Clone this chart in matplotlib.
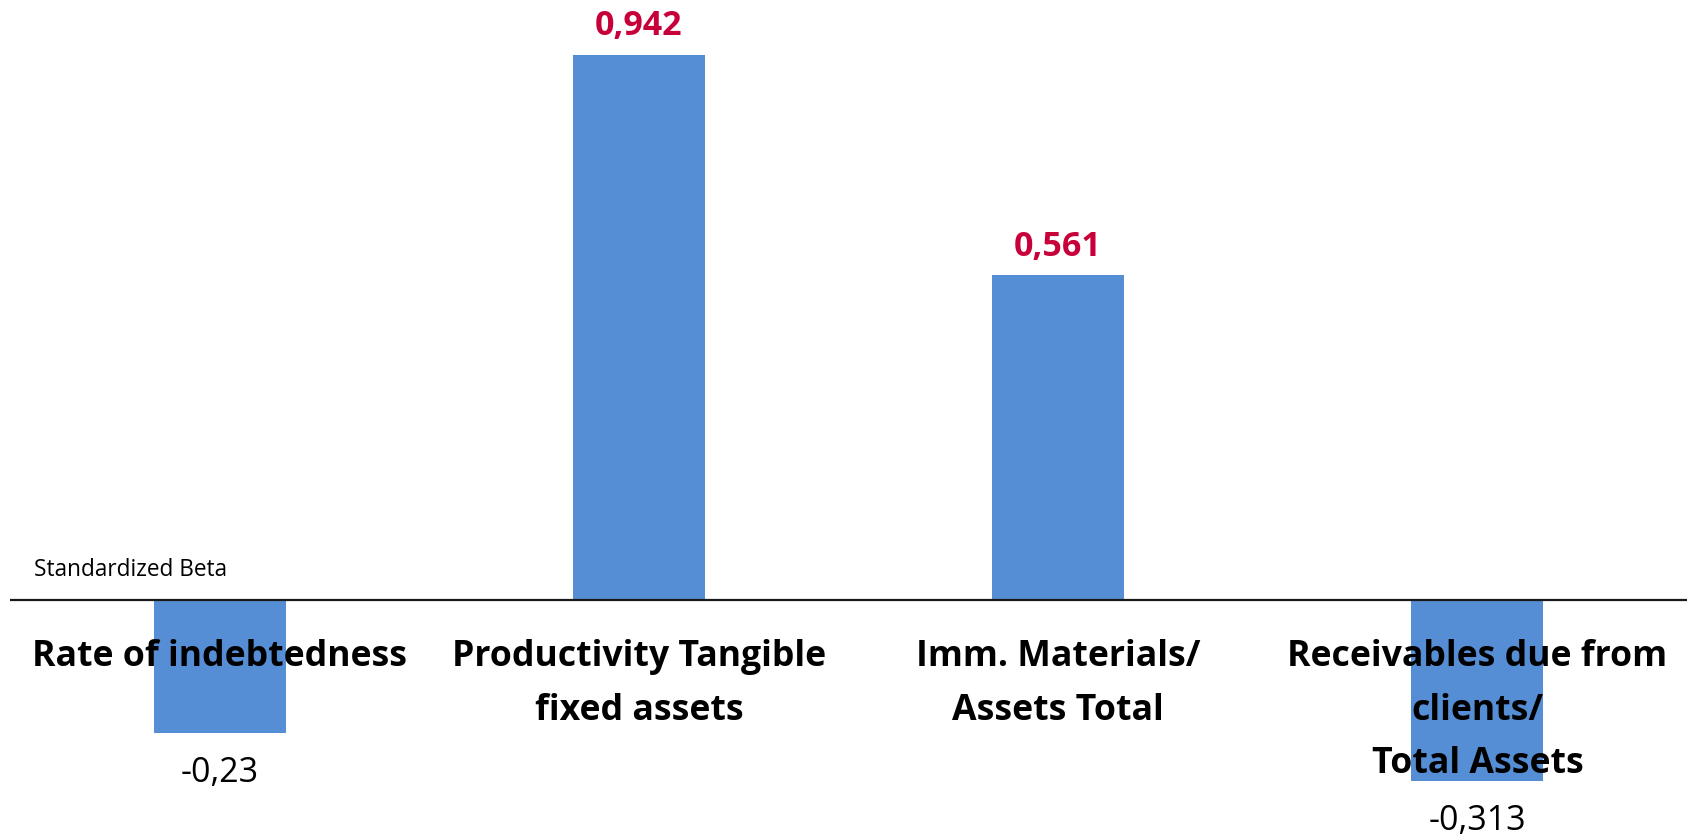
import matplotlib
matplotlib.use("Agg")
import matplotlib.pyplot as plt

categories = ["Rate of indebtedness",
              "Productivity Tangible\nfixed assets",
              "Imm. Materials/\nAssets Total",
              "Receivables due from\nclients/\nTotal Assets"]
values = [-0.23, 0.942, 0.561, -0.313]
value_labels = ["-0,23", "0,942", "0,561", "-0,313"]
axis_title = "Standardized Beta"

W, H = 1692, 837
fig = plt.figure(figsize=(W / 100, H / 100), dpi=100)
ax = fig.add_axes([10 / W, 0, 1677 / W, 1])
ax.set_xlim(-0.5, 3.5)
ax.set_ylim(-(837 - 601) / 579, 601 / 579)
ax.axis("off")

bar_color = "#558ED5"
x = list(range(len(categories)))
ax.bar(x, values, width=0.315, color=bar_color, zorder=1)
ax.axhline(0, color="#1a1a1a", linewidth=1.6, zorder=2)

font = "Open Sans"
for i, (v, lab) in enumerate(zip(values, value_labels)):
    if v >= 0:
        ax.annotate(lab, xy=(i, v), xytext=(0, 9), textcoords="offset points",
                    ha="center", va="bottom", fontsize=24.5, fontweight="bold",
                    color="#C8003A", family=font)
    else:
        ax.annotate(lab, xy=(i, v), xytext=(0, -16), textcoords="offset points",
                    ha="center", va="top", fontsize=24.5, color="black", family=font)

for i, cat in enumerate(categories):
    ax.text(i, -0.066, cat, ha="center", va="top", fontsize=25.7, fontweight="bold",
            family=font, linespacing=1.65, zorder=3)

ax.text(-0.442, 0.033, axis_title, ha="left", va="bottom", fontsize=16.3, family=font)

fig.savefig("out.png", dpi=100)
